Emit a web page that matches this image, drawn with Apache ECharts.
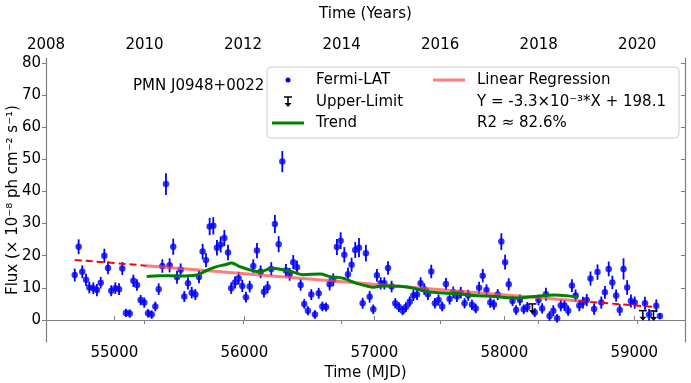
<!DOCTYPE html>
<html>
<head>
<meta charset="utf-8">
<script src="https://cdn.jsdelivr.net/npm/echarts@6/dist/echarts.min.js"></script>
<style>
html, body {margin: 0; padding: 0; background: #fff;}
#chart {width: 691px; height: 383px;}
</style>
</head>
<body>
<div id="chart"></div>
<script>
// Fermi-LAT monthly light curve (MJD, flux, 1-sigma error)
var mjd = [
	54695, 54725, 54753, 54782, 54807, 54838, 54866, 54895, 54923, 54951,
	54976, 55007, 55036, 55061, 55089, 55118, 55146, 55174, 55202, 55230,
	55259, 55287, 55315, 55341, 55369, 55397, 55425, 55453, 55482, 55510,
	55538, 55566, 55595, 55623, 55651, 55679, 55705, 55733, 55761, 55789,
	55818, 55846, 55874, 55899, 55928, 55956, 55984, 56012, 56041, 56069,
	56097, 56125, 56151, 56179, 56207, 56235, 56264, 56292, 56320, 56348,
	56376, 56405, 56433, 56461, 56489, 56515, 56543, 56572, 56600, 56628,
	56656, 56684, 56712, 56741, 56769, 56797, 56825, 56853, 56882, 56910,
	56935, 56964, 56992, 57020, 57049, 57077, 57105, 57133, 57161, 57189,
	57218, 57243, 57272, 57300, 57328, 57356, 57384, 57412, 57438, 57466,
	57494, 57522, 57551, 57579, 57607, 57635, 57665, 57694, 57722, 57751,
	57780, 57806, 57834, 57863, 57892, 57920, 57949, 57977, 58006, 58034,
	58063, 58091, 58120, 58149, 58177, 58234, 58263, 58291, 58320, 58348,
	58377, 58406, 58434, 58463, 58491, 58520, 58548, 58577, 58605, 58634,
	58663, 58691, 58717, 58746, 58774, 58803, 58831, 58860, 58888, 58917,
	58945, 58974, 59003, 59082, 59114, 59169, 59197
];
var flux = [
	14.0, 22.8, 15.0, 12.5, 10.1, 9.9, 9.3, 11.6, 20.0, 16.2,
	9.1, 9.9, 9.6, 16.0, 2.2, 2.0, 12.2, 10.9, 6.2, 5.4,
	2.1, 1.7, 4.2, 9.6, 16.8, 42.3, 17.0, 22.8, 13.3, 15.6,
	7.3, 11.4, 8.5, 7.9, 13.4, 21.3, 18.6, 29.1, 29.3, 22.5,
	23.5, 25.5, 21.0, 9.9, 11.7, 13.0, 10.6, 7.1, 10.4, 16.8,
	21.6, 15.0, 8.8, 10.2, 15.9, 29.9, 23.6, 49.3, 15.4, 14.2,
	18.0, 16.4, 10.9, 5.0, 2.9, 7.9, 1.7, 8.3, 4.2, 4.0,
	11.1, 12.5, 22.7, 24.7, 20.3, 14.2, 17.2, 21.8, 22.5, 5.2,
	20.8, 7.2, 3.3, 13.9, 11.4, 11.4, 16.2, 10.4, 5.2, 4.0,
	2.9, 4.0, 5.7, 7.6, 7.9, 11.4, 9.6, 8.0, 15.1, 5.2,
	6.2, 4.2, 11.2, 6.5, 8.6, 7.3, 8.5, 5.2, 7.7, 4.7,
	3.6, 10.0, 13.8, 9.3, 5.4, 4.8, 7.9, 24.4, 18.0, 11.1,
	5.9, 3.1, 6.2, 3.3, 4.0, 2.3, 6.2, 3.6, 8.0, 1.2,
	2.9, 0.5, 4.5, 4.5, 2.9, 10.7, 7.6, 4.5, 5.4, 6.2,
	12.9, 3.4, 14.9, 5.4, 8.6, 15.9, 11.7, 7.6, 3.1, 15.9,
	10.1, 5.9, 5.4, 5.2, 1.6, 4.4, 1.2
];
var fluxErr = [
	2.0, 2.3, 2.0, 1.9, 1.8, 1.8, 1.9, 1.8, 2.2, 2.0,
	1.7, 1.8, 1.8, 2.0, 1.3, 1.3, 1.9, 1.8, 1.6, 1.6,
	1.3, 1.3, 1.5, 1.8, 2.1, 3.4, 2.2, 2.5, 2.0, 2.0,
	1.7, 1.9, 1.8, 1.7, 2.0, 2.4, 2.2, 2.7, 2.7, 2.4,
	2.5, 2.5, 2.4, 1.8, 1.9, 2.0, 1.9, 1.7, 1.8, 2.1,
	2.4, 2.0, 1.8, 1.9, 2.1, 2.8, 2.5, 3.3, 2.0, 2.0,
	2.2, 2.1, 1.8, 1.5, 1.4, 1.7, 1.3, 1.7, 1.5, 1.4,
	1.9, 2.0, 2.5, 2.6, 2.4, 2.1, 2.2, 2.5, 3.0, 1.7,
	2.6, 1.8, 1.5, 2.0, 1.9, 1.9, 2.1, 1.8, 1.6, 1.5,
	1.4, 1.5, 1.6, 1.7, 1.7, 1.9, 1.8, 1.8, 2.1, 1.6,
	1.7, 1.5, 1.9, 1.7, 1.8, 1.7, 1.8, 1.6, 1.7, 1.6,
	1.5, 1.9, 2.1, 1.8, 1.6, 1.6, 1.7, 2.6, 2.3, 1.9,
	1.6, 1.5, 1.7, 1.5, 1.6, 1.4, 1.7, 1.6, 2.0, 1.5,
	1.7, 1.3, 1.8, 1.7, 1.6, 2.0, 1.9, 1.8, 1.8, 1.9,
	2.2, 1.8, 2.4, 1.9, 2.0, 2.3, 2.1, 1.9, 1.8, 3.3,
	2.3, 2.0, 1.9, 2.0, 1.8, 2.0, 1.0
];

// upper limits
var ulMjd = [58216, 59066, 59148];
var ulFlux = [5.0, 2.9, 2.8];

// smoothed trend
var trendMjd = [55249, 55351, 55505, 55633, 55710, 55787, 55851, 55902, 55966, 56043,
	56120, 56210, 56299, 56376, 56453, 56582, 56659, 56761, 56812, 56864,
	56941, 56992, 57069, 57197, 57299, 57376, 57453, 57556, 57659, 57764,
	57920, 58075, 58232, 58387, 58491, 58569];
var trendFlux = [13.5, 13.8, 13.7, 14.0, 15.4, 16.6, 17.2, 17.7, 16.6, 15.6,
	15.0, 16.1, 15.6, 14.9, 14.1, 14.3, 13.5, 13.0, 12.2, 11.4,
	10.6, 10.2, 10.6, 10.5, 9.9, 9.1, 8.6, 8.3, 8.1, 7.6,
	7.3, 6.8, 7.3, 7.8, 7.5, 7.0];

// linear regression: start, trend start, trend end, end
var regMjd = [54695, 55249, 58577, 59169];
var regFlux = [18.7, 16.9, 5.9, 4.0];

var mjdTicks = [55000, 56000, 57000, 58000, 59000];
var yearTicks = [2008, 2010, 2012, 2014, 2016, 2018, 2020];
var fluxTicks = [0, 10, 20, 30, 40, 50, 60, 70, 80];

var FONT = 'DejaVu Sans';
var AXIS_COLOR = '#7f7f7f';

function pairs(xs, ys) {
	var arr = [];
	for (var i = 0; i < xs.length; i++) {
		arr.push([xs[i], ys[i]]);
	}
	return arr;
}

function errData() {
	var arr = [];
	for (var i = 0; i < mjd.length; i++) {
		arr.push([mjd[i], flux[i] - fluxErr[i], flux[i] + fluxErr[i]]);
	}
	return arr;
}

function plain(v) {
	return String(v);
}

function renderErr(params, api) {
	var lo = api.coord([api.value(0), api.value(1)]);
	var hi = api.coord([api.value(0), api.value(2)]);
	return {
		type: 'line',
		shape: {x1: lo[0], y1: lo[1], x2: hi[0], y2: hi[1]},
		style: {stroke: '#0000ff', lineWidth: 1.8}
	};
}

function ulShape(cx, cy, z) {
	// bar at the limit, stem down, arrow head
	return [
		{type: 'line', z: z, shape: {x1: cx - 4, y1: cy, x2: cx + 4, y2: cy}, style: {stroke: '#000', lineWidth: 1.5}},
		{type: 'line', z: z, shape: {x1: cx, y1: cy, x2: cx, y2: cy + 7}, style: {stroke: '#000', lineWidth: 1.5}},
		{type: 'polygon', z: z, shape: {points: [[cx - 3.5, cy + 6], [cx + 3.5, cy + 6], [cx, cy + 10]]}, style: {fill: '#000'}}
	];
}

function renderUl(params, api) {
	var p = api.coord([api.value(0), api.value(1)]);
	return {type: 'group', children: ulShape(p[0], p[1])};
}

var chart = echarts.init(document.getElementById('chart'), null, {renderer: 'canvas'});

var baseLabel = {fontFamily: FONT, fontSize: 15, color: '#000'};

var legendItems = [
	{type: 'rect', shape: {x: 267, y: 67, width: 412, height: 71, r: 4},
		style: {fill: 'rgba(255,255,255,0.85)', stroke: '#cccccc', lineWidth: 1}, z: 10},
	{type: 'circle', shape: {cx: 288, cy: 80, r: 2.5}, style: {fill: '#0000ff'}, z: 11},
	{type: 'line', shape: {x1: 272, y1: 123, x2: 304, y2: 123}, style: {stroke: '#008000', lineWidth: 3}, z: 11},
	{type: 'line', shape: {x1: 433, y1: 80, x2: 465, y2: 80}, style: {stroke: 'rgba(255, 70, 70, 0.7)', lineWidth: 3}, z: 11},
	{type: 'text', x: 316, y: 80, style: {text: 'Fermi-LAT', font: '15px "DejaVu Sans"', fill: '#000', verticalAlign: 'middle'}, z: 11},
	{type: 'text', x: 316, y: 102, style: {text: 'Upper-Limit', font: '15px "DejaVu Sans"', fill: '#000', verticalAlign: 'middle'}, z: 11},
	{type: 'text', x: 316, y: 123, style: {text: 'Trend', font: '15px "DejaVu Sans"', fill: '#000', verticalAlign: 'middle'}, z: 11},
	{type: 'text', x: 477, y: 80, style: {text: 'Linear Regression', font: '15px "DejaVu Sans"', fill: '#000', verticalAlign: 'middle'}, z: 11},
	{type: 'text', x: 477, y: 102, style: {text: 'Y = -3.3\u00d710\u207b\u00b3*X + 198.1', font: '15px "DejaVu Sans"', fill: '#000', verticalAlign: 'middle'}, z: 11},
	{type: 'text', x: 477, y: 123, style: {text: 'R2 \u2248 82.6%', font: '15px "DejaVu Sans"', fill: '#000', verticalAlign: 'middle'}, z: 11}
].concat(ulShape(288, 97, 12));

chart.setOption({
	animation: false,
	backgroundColor: '#fff',
	textStyle: {fontFamily: FONT},
	grid: {left: 46, right: 6, top: 58, bottom: 41, containLabel: false, outerBoundsMode: 'none'},
	xAxis: [
		{
			type: 'value',
			min: 54474,
			max: 59390,
			name: 'Time (MJD)',
			nameLocation: 'middle',
			nameGap: 21,
			nameTextStyle: baseLabel,
			axisLine: {lineStyle: {color: AXIS_COLOR, width: 1.2}},
			axisTick: {inside: true, length: 4, customValues: mjdTicks, lineStyle: {color: AXIS_COLOR}},
			axisLabel: {margin: 4, customValues: mjdTicks, formatter: plain, fontFamily: FONT, fontSize: 15, color: '#000'},
			splitLine: {show: false}
		},
		{
			type: 'value',
			position: 'top',
			min: 2008,
			max: 2020.97,
			name: 'Time (Years)',
			nameLocation: 'middle',
			nameGap: 36,
			nameTextStyle: baseLabel,
			axisLine: {lineStyle: {color: AXIS_COLOR, width: 1.2}},
			axisTick: {inside: true, length: 4, customValues: yearTicks, lineStyle: {color: AXIS_COLOR}},
			axisLabel: {margin: 5, customValues: yearTicks, formatter: plain, fontFamily: FONT, fontSize: 15, color: '#000'},
			splitLine: {show: false}
		}
	],
	yAxis: [
		{
			type: 'value',
			min: -6.86,
			max: 81.56,
			name: 'Flux (\u00d7 10\u207b\u2078 ph cm\u207b\u00b2 s\u207b\u00b9)',
			nameLocation: 'middle',
			nameGap: 25,
			nameMoveOverlap: false,
			nameRotate: 90,
			nameTextStyle: baseLabel,
			axisLine: {lineStyle: {color: AXIS_COLOR, width: 1.2}},
			axisTick: {inside: false, length: 4, customValues: fluxTicks, lineStyle: {color: AXIS_COLOR}},
			axisLabel: {margin: 5, customValues: fluxTicks, formatter: plain, fontFamily: FONT, fontSize: 15, color: '#000'},
			splitLine: {show: false}
		},
		{
			type: 'value',
			position: 'right',
			min: -6.86,
			max: 81.56,
			axisLine: {show: true, lineStyle: {color: AXIS_COLOR, width: 1.2}},
			axisTick: {inside: true, length: 4, customValues: fluxTicks, lineStyle: {color: AXIS_COLOR}},
			axisLabel: {show: false},
			splitLine: {show: false}
		}
	],
	series: [
		{
			name: 'err',
			type: 'custom',
			renderItem: renderErr,
			data: errData(),
			encode: {x: 0, y: [1, 2]},
			z: 2,
			silent: true
		},
		{
			name: 'Fermi-LAT',
			type: 'scatter',
			data: pairs(mjd, flux),
			symbol: 'circle',
			symbolSize: 6.5,
			itemStyle: {color: '#0000ff'},
			z: 3
		},
		{
			name: 'Linear Regression',
			type: 'line',
			data: [[regMjd[1], regFlux[1]], [regMjd[2], regFlux[2]]],
			showSymbol: false,
			lineStyle: {color: 'rgba(255, 70, 70, 0.7)', width: 3},
			z: 4
		},
		{
			name: 'reg-pre',
			type: 'line',
			data: [[regMjd[0], regFlux[0]], [regMjd[1], regFlux[1]]],
			showSymbol: false,
			lineStyle: {color: '#ff0000', width: 2, type: [7, 4]},
			z: 4
		},
		{
			name: 'reg-post',
			type: 'line',
			data: [[regMjd[2], regFlux[2]], [regMjd[3], regFlux[3]]],
			showSymbol: false,
			lineStyle: {color: '#ff0000', width: 2, type: [7, 4]},
			z: 4
		},
		{
			name: 'Trend',
			type: 'line',
			data: pairs(trendMjd, trendFlux),
			smooth: 0.4,
			showSymbol: false,
			lineStyle: {color: '#008000', width: 3},
			z: 5
		},
		{
			name: 'Upper-Limit',
			type: 'custom',
			renderItem: renderUl,
			data: pairs(ulMjd, ulFlux),
			z: 6
		}
	],
	graphic: [
		{
			type: 'text', left: 133, top: 79,
			style: {text: 'PMN J0948+0022', font: '15px "DejaVu Sans"', fill: '#000'}
		}
	].concat(legendItems)
});
</script>
</body>
</html>
